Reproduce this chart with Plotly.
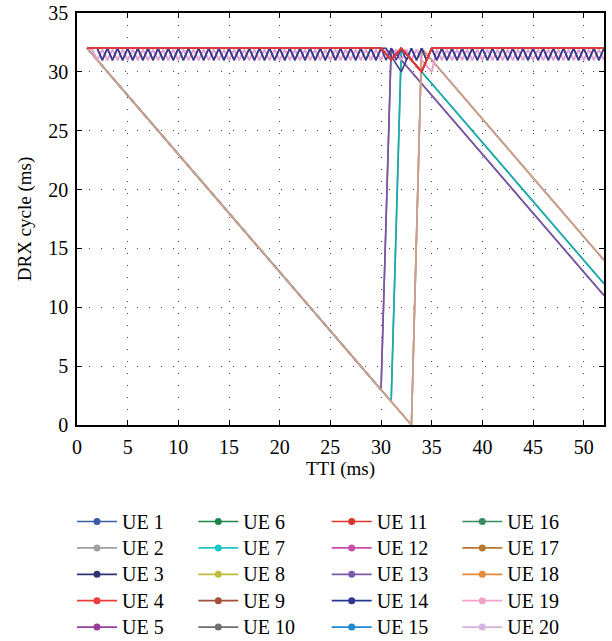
import plotly.graph_objects as go

# ---------------- data ----------------
ue_names = ["UE 1", "UE 2", "UE 3", "UE 4", "UE 5", "UE 6", "UE 7", "UE 8", "UE 9", "UE 10",
            "UE 11", "UE 12", "UE 13", "UE 14", "UE 15", "UE 16", "UE 17", "UE 18", "UE 19", "UE 20"]
legend_colors = ["#3B5BA5", "#A0A0A0", "#2E3470", "#EE3B3B", "#9A3D98",
                 "#1C8749", "#20C5C5", "#BDBD3C", "#A0503C", "#6E6E6E",
                 "#D9362E", "#C94FAE", "#7B59AA", "#2C358F", "#1D8BD1",
                 "#3A8A62", "#B8772E", "#E4893A", "#F2A2C9", "#D3B3E0"]

tti = list(range(1, 53))                  # TTI 1..52 ms
tti_half = [k / 2 for k in range(2, 105)]  # TTI 1..52 ms, half-ms samples

# UEs staying at the 32 ms cycle (with a short dip near TTI 31-35)
red_cycle = [32, 32, 32, 32, 32, 32, 32, 32, 32, 32,
             32, 32, 32, 32, 32, 32, 32, 32, 32, 32,
             32, 32, 32, 32, 32, 32, 32, 32, 32, 32,
             31, 32, 31, 30, 32,
             32, 32, 32, 32, 32, 32, 32, 32, 32, 32,
             32, 32, 32, 32, 32, 32, 32]

navy_cycle = [32, 32, 32,
              31, 32, 31, 32, 31, 32, 31, 32, 31, 32, 31, 32, 31, 32, 31, 32, 31, 32, 31, 32,
              31, 32, 31, 32, 31, 32, 31, 32, 31, 32, 31, 32, 31, 32, 31, 32, 31, 32, 31, 32,
              31, 32, 31, 32, 31, 32, 31, 32, 31, 32, 31, 32, 31, 32, 31, 32, 31, 32, 31, 32,
              31, 32, 31, 32, 31, 32, 31, 32, 31, 32, 31, 32, 31, 32, 31, 32, 31, 32, 31, 32,
              31, 32, 31, 32, 31, 32, 31, 32, 31, 32, 31, 32, 31, 32, 31, 32, 31, 32, 31, 32]

navy_cycle_b = [32, 32, 32,
                31, 32, 31, 32, 31, 32, 31, 32, 31, 32, 31, 32, 31, 32, 31, 32, 31, 32, 31, 32,
                31, 32, 31, 32, 31, 32, 31, 32, 31, 32, 31, 32, 31, 32, 31, 32, 31, 32, 31, 32,
                31, 32, 31, 32, 31, 32, 31, 32, 31, 32, 31, 32, 31, 32, 31, 32, 32, 31.3, 30.7, 30,
                31, 32, 31, 32, 31, 32, 31, 32, 31, 32, 31, 32, 31, 32, 31, 32, 31, 32, 31, 32,
                31, 32, 31, 32, 31, 32, 31, 32, 31, 32, 31, 32, 31, 32, 31, 32, 31, 32, 31, 32]

pink_cycle = [32,
              31.9, 31, 31.9, 31, 31.9, 31, 31.9, 31, 31.9, 31, 31.9, 31, 31.9, 31, 31.9, 31, 31.9, 31, 31.9, 31,
              31.9, 31, 31.9, 31, 31.9, 31, 31.9, 31, 31.9, 31, 31.9, 31, 31.9, 31, 31.9, 31, 31.9, 31, 31.9, 31,
              31.9, 31, 31.9, 31, 31.9, 31, 31.9, 31, 31.9, 31, 31.9, 31, 31.9, 31, 31.9, 31, 31.9, 31, 31.9, 31,
              31.9, 31, 31.9, 31, 31.9, 31, 30.5, 30, 31.9, 31, 31.9, 31, 31.9, 31, 31.9, 31, 31.9, 31, 31.9, 31,
              31.9, 31, 31.9, 31, 31.9, 31, 31.9, 31, 31.9, 31, 31.9, 31, 31.9, 31, 31.9, 31, 31.9, 31, 31.9, 31,
              31.9, 31]

# UEs whose cycle shrinks by 1 ms per TTI, then resets to 32
purple_cycle = [32, 31, 30, 29, 28, 27, 26, 25, 24, 23, 22, 21, 20, 19, 18, 17, 16, 15, 14, 13,
                12, 11, 10, 9, 8, 7, 6, 5, 4, 3,
                32, 31, 30, 29, 28, 27, 26, 25, 24, 23, 22, 21, 20, 19, 18, 17, 16, 15, 14, 13,
                12, 11]
teal_cycle = [32, 31, 30, 29, 28, 27, 26, 25, 24, 23, 22, 21, 20, 19, 18, 17, 16, 15, 14, 13,
              12, 11, 10, 9, 8, 7, 6, 5, 4, 3, 2,
              32, 31, 30, 29, 28, 27, 26, 25, 24, 23, 22, 21, 20, 19, 18, 17, 16, 15, 14, 13,
              12]
tan_cycle = [32, 31, 30, 29, 28, 27, 26, 25, 24, 23, 22, 21, 20, 19, 18, 17, 16, 15, 14, 13,
             12, 11, 10, 9, 8, 7, 6, 5, 4, 3, 2, 1, 0,
             32, 31, 30, 29, 28, 27, 26, 25, 24, 23, 22, 21, 20, 19, 18, 17, 16, 15, 14]

# (UE, x-grid, values, drawn colour) in drawing order, bottom to top
series = [
    ("UE 5", tti, purple_cycle, "#7A56A0"),
    ("UE 13", tti, purple_cycle, "#7A56A0"),
    ("UE 15", tti, teal_cycle, "#1FAAAA"),
    ("UE 7", tti, teal_cycle, "#1FAAAA"),
    ("UE 9", tti, tan_cycle, "#C9A08E"),
    ("UE 17", tti, tan_cycle, "#C9A08E"),
    ("UE 18", tti, tan_cycle, "#C9A08E"),
    ("UE 20", tti, tan_cycle, "#C9A08E"),
    ("UE 12", tti_half, pink_cycle, "#E5A0CE"),
    ("UE 19", tti_half, pink_cycle, "#E5A0CE"),
    ("UE 3", tti_half, navy_cycle, "#3C3C8E"),
    ("UE 14", tti_half, navy_cycle_b, "#3C3C8E"),
    ("UE 1", tti, red_cycle, "#DB3B3B"),
    ("UE 2", tti, red_cycle, "#DB3B3B"),
    ("UE 6", tti, red_cycle, "#DB3B3B"),
    ("UE 8", tti, red_cycle, "#DB3B3B"),
    ("UE 10", tti, red_cycle, "#DB3B3B"),
    ("UE 16", tti, red_cycle, "#DB3B3B"),
    ("UE 4", tti, red_cycle, "#DB3B3B"),
    ("UE 11", tti, red_cycle, "#DB3B3B"),
]

FONT = "Liberation Serif"

fig = go.Figure()
for name, xs, ys, col in series:
    fig.add_trace(go.Scatter(x=xs, y=ys, mode="lines", name=name, showlegend=False,
                             line=dict(color=col, width=1.6)))

legend_ids = ["legend", "legend2", "legend3", "legend4"]
for i, name in enumerate(ue_names):
    fig.add_trace(go.Scatter(
        x=[None], y=[None], mode="lines+markers",
        name="<span style='font-size:20px'>" + name + "</span>",
        line=dict(color=legend_colors[i], width=1.7),
        marker=dict(size=7, color=legend_colors[i]),
        legend=legend_ids[i // 5]))

leg_common = dict(orientation="v", xanchor="left", yanchor="top", y=-0.19,
                  bgcolor="rgba(0,0,0,0)", itemwidth=40,
                  font=dict(family=FONT, size=18, color="black"))
legend_x = [-0.0095, 0.2207, 0.4738, 0.7216]

fig.update_layout(
    width=612, height=641,
    margin=dict(l=77, r=8, t=13, b=216, autoexpand=False),
    paper_bgcolor="white", plot_bgcolor="white",
    font=dict(family=FONT, size=20, color="black"),
    legend=dict(x=legend_x[0], **leg_common),
    legend2=dict(x=legend_x[1], **leg_common),
    legend3=dict(x=legend_x[2], **leg_common),
    legend4=dict(x=legend_x[3], **leg_common),
)

axis_common = dict(showline=True, linecolor="black", linewidth=1.5, mirror="ticks",
                   ticks="inside", ticklen=5, tickcolor="black", tickwidth=1,
                   showgrid=True, gridcolor="#444444", gridwidth=1, griddash="1px,11px",
                   zeroline=False, tickfont=dict(family=FONT, size=20, color="black"))

fig.update_xaxes(range=[0, 52], tick0=0, dtick=5, ticklabelstandoff=3,
                 title=dict(text="TTI (ms)", font=dict(family=FONT, size=19), standoff=5),
                 **axis_common)
fig.update_yaxes(range=[0, 35], tick0=0, dtick=5, ticklabelstandoff=3,
                 title=dict(text="DRX cycle (ms)", font=dict(family=FONT, size=19), standoff=12),
                 **axis_common)

# remove the default 8 px page margin so the figure sits at the window's corner
fig.write_html("out.html", config={"displayModeBar": False},
               post_script="document.body.style.margin='0px';")
